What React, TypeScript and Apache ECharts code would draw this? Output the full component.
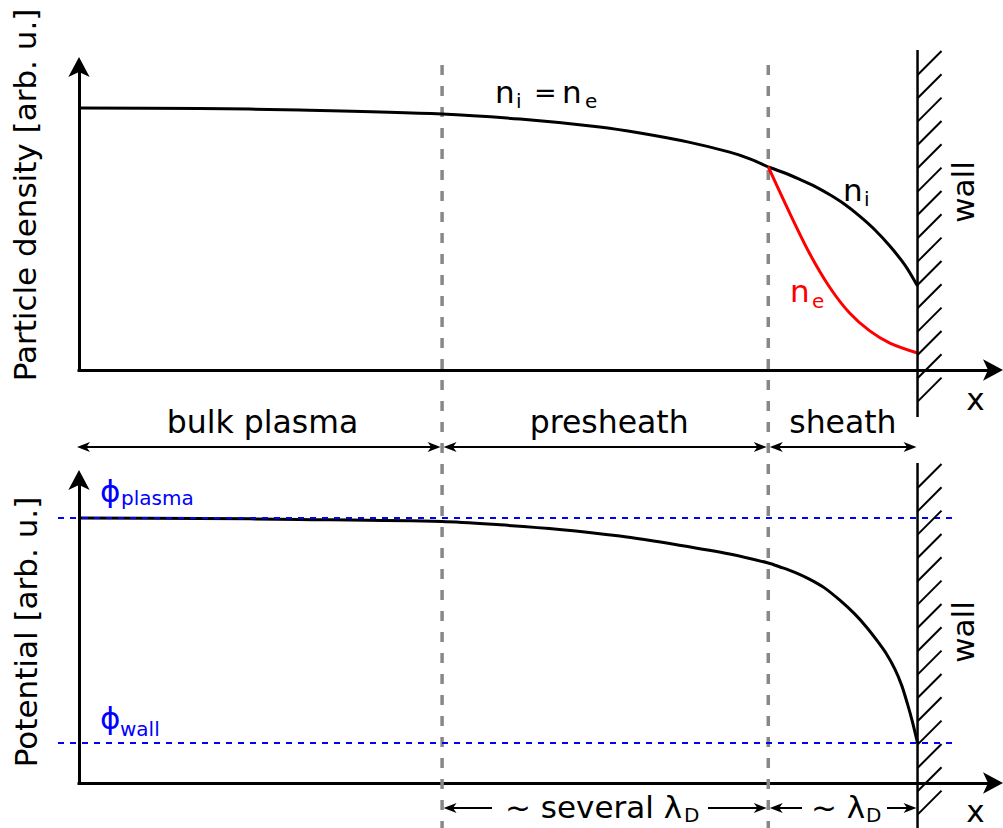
import { useEffect, useRef } from 'react';
import * as echarts from 'echarts';

// Position along the discharge; the wall sits at x = WALL_X
const X_MAX = 10.9;
const WALL_X = 10;
const BULK_END_X = 4.33;
const SHEATH_START_X = 8.22;

// Quasi-neutral region (bulk plasma + presheath): n_i = n_e
const neutralX = [0, 1.44, 2.63, 4.33, 5.26, 6.21, 6.69, 7.27, 7.76, 8.0, 8.22];
const neutralN = [0.865, 0.863, 0.858, 0.845, 0.828, 0.802, 0.782, 0.752, 0.719, 0.697, 0.67];

// Sheath: ion density
const ionX = [8.22, 8.41, 8.59, 8.77, 8.95, 9.13, 9.31, 9.49, 9.67, 9.85, 10];
const ionN = [0.67, 0.651, 0.63, 0.607, 0.579, 0.547, 0.508, 0.463, 0.409, 0.346, 0.277];

// Sheath: electron density
const elecX = [8.22, 8.47, 8.71, 8.95, 9.19, 9.43, 9.67, 10];
const elecN = [0.67, 0.521, 0.386, 0.274, 0.188, 0.129, 0.089, 0.056];

// Electric potential
const PHI_PLASMA = 0.875;
const PHI_WALL = 0.132;
const potX = [
  0, 1.44, 2.63, 4.33, 5.02, 5.73, 6.45, 7.16, 7.76, 8.22, 8.36, 8.53, 8.71, 8.89, 9.07, 9.25, 9.39,
  9.52, 9.63, 9.73, 9.81, 9.88, 9.94, 10,
];
const potV = [
  PHI_PLASMA, 0.873, 0.87, 0.863, 0.852, 0.837, 0.815, 0.785, 0.756, 0.726, 0.713, 0.696, 0.673, 0.644,
  0.604, 0.558, 0.515, 0.469, 0.426, 0.376, 0.323, 0.261, 0.201, PHI_WALL,
];

const FONT = '"DejaVu Sans", Verdana, sans-serif';
const BLUE = '#0000ff';
const RED = '#ff0000';

const zip = (xs: number[], ys: number[]) => xs.map((x, i) => [x, ys[i]]);

const axisBase = {
  axisTick: { show: false },
  axisLabel: { show: false },
  splitLine: { show: false },
};

const axisLine = {
  show: true,
  onZero: false,
  symbol: ['none', 'arrow'],
  symbolSize: [16, 20],
  symbolOffset: [0, 10],
  lineStyle: { color: '#000', width: 3, cap: 'square' },
};

const xAxisFor = (gridIndex: number) => ({
  type: 'value',
  gridIndex,
  min: 0,
  max: X_MAX,
  axisLine,
  ...axisBase,
});

const yAxisFor = (gridIndex: number) => ({
  type: 'value',
  gridIndex,
  min: 0,
  max: 1,
  axisLine,
  ...axisBase,
});

const curve = (data: number[][], color: string, idx: number) => ({
  type: 'line',
  xAxisIndex: idx,
  yAxisIndex: idx,
  data,
  showSymbol: false,
  symbol: 'none',
  smooth: 0.3,
  lineStyle: { color, width: 3 },
  z: 3,
});

const option = {
  animation: false,
  backgroundColor: '#fff',
  grid: [
    { left: 79, top: 67, width: 914, height: 303 },
    { left: 79, top: 480, width: 914, height: 303 },
  ],
  xAxis: [xAxisFor(0), xAxisFor(1)],
  yAxis: [yAxisFor(0), yAxisFor(1)],
  series: [
    curve(zip(neutralX, neutralN), '#000', 0),
    curve(zip(ionX, ionN), '#000', 0),
    curve(zip(elecX, elecN), RED, 0),
    curve(zip(potX, potV), '#000', 1),
  ],
};

// Text placed by its alphabetic baseline (SVG text uses a central baseline)
function label(
  text: string,
  x: number,
  base: number,
  size: number,
  color = '#000',
  align = 'left'
) {
  return {
    type: 'text',
    x,
    y: base - 0.346 * size,
    z: 20,
    style: { text, fill: color, fontSize: size, fontFamily: FONT, align, verticalAlign: 'middle' },
  };
}

function vLabel(text: string, cx: number, cy: number, size: number) {
  return {
    type: 'text',
    x: cx,
    y: cy,
    rotation: Math.PI / 2,
    z: 20,
    style: { text, fill: '#000', fontSize: size, fontFamily: FONT, align: 'center', verticalAlign: 'middle' },
  };
}

function arrowHead(tipX: number, y: number, dir: number) {
  const L = 13;
  const W = 5;
  return {
    type: 'polygon',
    z: 15,
    shape: {
      points: [
        [tipX, y],
        [tipX - dir * L, y - W],
        [tipX - dir * L * 0.72, y],
        [tipX - dir * L, y + W],
      ],
    },
    style: { fill: '#000' },
  };
}

// Horizontal arrow; heads drawn at the requested ends
function hArrow(x1: number, x2: number, y: number, headStart: boolean, headEnd: boolean) {
  const els: any[] = [
    {
      type: 'line',
      z: 15,
      shape: { x1: x1 + (headStart ? 5 : 0), y1: y, x2: x2 - (headEnd ? 5 : 0), y2: y },
      style: { stroke: '#000', lineWidth: 2 },
    },
  ];
  if (headStart) els.push(arrowHead(x1, y, -1));
  if (headEnd) els.push(arrowHead(x2, y, 1));
  return els;
}

function wall(x: number, top: number, bottom: number, firstHatch: number) {
  const els: any[] = [
    {
      type: 'line',
      z: 12,
      shape: { x1: x, y1: top, x2: x, y2: bottom },
      style: { stroke: '#000', lineWidth: 2.5 },
    },
  ];
  const step = 23.33;
  for (let y = firstHatch; y < bottom - 10; y += step) {
    els.push({
      type: 'line',
      z: 12,
      shape: { x1: x, y1: y, x2: x + 24, y2: y - 24 },
      style: { stroke: '#000', lineWidth: 2 },
    });
  }
  return els;
}

function buildGraphic(chart: echarts.ECharts) {
  const px = (v: number) => chart.convertToPixel({ xAxisIndex: 0 }, v) as number;
  const pyBot = (v: number) => chart.convertToPixel({ yAxisIndex: 1 }, v) as number;

  const x0 = px(0);
  const xB = px(BULK_END_X);
  const xS = px(SHEATH_START_X);
  const xW = px(WALL_X);
  const yPlasma = pyBot(PHI_PLASMA);
  const yWall = pyBot(PHI_WALL);

  const els: any[] = [];

  // region boundaries
  [xB, xS].forEach((x) => {
    els.push({
      type: 'line',
      z: 1,
      shape: { x1: x, y1: 65, x2: x, y2: 828 },
      style: { stroke: '#888', lineWidth: 3.5, lineDash: [10, 11] },
    });
  });

  // reference potential levels
  [yPlasma, yWall].forEach((y) => {
    els.push({
      type: 'line',
      z: 10,
      shape: { x1: 58, y1: y, x2: 955, y2: y },
      style: { stroke: BLUE, lineWidth: 2, lineDash: [6, 6] },
    });
  });

  // walls
  els.push(...wall(xW, 50, 417, 75));
  els.push(...wall(xW, 463, 828, 488));

  // region arrows
  const yMid = 447;
  els.push(...hArrow(x0 - 2, xB - 1.5, yMid, true, true));
  els.push(...hArrow(xB + 1.5, xS - 1.5, yMid, true, true));
  els.push(...hArrow(xS + 1.5, xW - 1, yMid, true, true));

  const yLow = 808;
  els.push(...hArrow(xB + 1.5, 492, yLow, true, false));
  els.push(...hArrow(708, xS - 1.5, yLow, false, true));
  els.push(...hArrow(xS + 1.5, 802, yLow, true, false));
  els.push(...hArrow(887, xW - 1, yLow, false, true));

  // region names
  els.push(label('bulk plasma', (x0 + xB) / 2 + 2, 433, 31.5, '#000', 'center'));
  els.push(label('presheath', (xB + xS) / 2 + 4, 433, 31.5, '#000', 'center'));
  els.push(label('sheath', (xS + xW) / 2, 433, 31.5, '#000', 'center'));

  // axis titles
  els.push(vLabel('Particle density [arb. u.]', 24.5, 195, 31));
  els.push(vLabel('Potential [arb. u.]', 25.5, 632, 31));
  els.push(vLabel('wall', 962.5, 192, 31));
  els.push(vLabel('wall', 962.5, 632, 31));
  els.push(label('x', 975.5, 410, 31, '#000', 'center'));
  els.push(label('x', 975.5, 822, 31, '#000', 'center'));

  // density labels
  els.push(label('n', 495, 103, 31));
  els.push(label('i', 516, 108, 20));
  els.push(label('=', 534, 102, 27));
  els.push(label('n', 562, 103, 31));
  els.push(label('e', 585, 108, 20));

  els.push(label('n', 843, 201, 31));
  els.push(label('i', 864, 206, 20));

  els.push(label('n', 790, 302, 31, RED));
  els.push(label('e', 812, 308, 20, RED));

  // potential labels
  els.push(label('\u03D5', 100, 502, 31, BLUE));
  els.push(label('plasma', 121, 505, 20, BLUE));
  els.push(label('\u03D5', 100, 729, 31, BLUE));
  els.push(label('wall', 120, 736, 20, BLUE));

  // length scales
  els.push(label('~ several \u03BB', 505, 818, 31));
  els.push(label('D', 684, 822, 20));
  els.push(label('~ \u03BB', 811, 818, 31));
  els.push(label('D', 866, 822, 20));

  return els;
}

export default function App() {
  const ref = useRef<HTMLDivElement>(null);
  useEffect(() => {
    const el = ref.current;
    if (!el) return;
    const chart = echarts.init(el, null, { renderer: 'svg' });
    chart.setOption(option as any);
    chart.setOption({ graphic: buildGraphic(chart) } as any);
    return () => chart.dispose();
  }, []);
  return (
    <div
      ref={ref}
      style={{ position: 'fixed', left: 0, top: 0, width: 1003, height: 828, background: '#fff' }}
    />
  );
}
